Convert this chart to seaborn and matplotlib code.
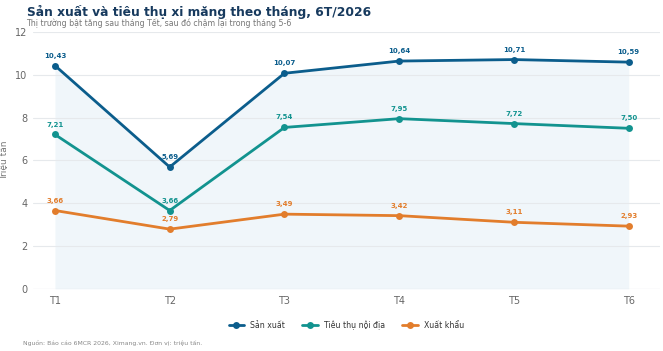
import numpy as np
import pandas as pd
import matplotlib
matplotlib.use("Agg")
import matplotlib.pyplot as plt
import seaborn as sns

months = ["T1", "T2", "T3", "T4", "T5", "T6"]
san_xuat = [10.43, 5.69, 10.07, 10.64, 10.71, 10.59]
tieu_thu = [7.21, 3.66, 7.54, 7.95, 7.72, 7.50]
xuat_khau = [3.66, 2.79, 3.49, 3.42, 3.11, 2.93]

series = ["Sản xuất", "Tiêu thụ nội địa", "Xuất khẩu"]
colors = ["#0b5d8c", "#12938f", "#e27d2c"]

df = pd.DataFrame({"x": np.arange(len(months)), "Sản xuất": san_xuat,
                   "Tiêu thụ nội địa": tieu_thu, "Xuất khẩu": xuat_khau})
long = df.melt(id_vars="x", var_name="series", value_name="value")

sns.set_style("white")
plt.rcParams['font.family'] = ['DejaVu Sans']

fig = plt.figure(figsize=(6.63, 3.51), dpi=100)
ax = fig.add_axes([0.05, 0.177, 0.945, 0.732])

# nền nhạt dưới đường sản xuất
ax.fill_between(df["x"], 0, df["Sản xuất"], color="#f0f6fa", lw=0, zorder=0.5)
sns.lineplot(data=long, x="x", y="value", hue="series", hue_order=series,
             palette=colors, marker="o", markersize=5, markeredgewidth=0,
             linewidth=2, ax=ax, zorder=3)

for name, col in zip(series, colors):
    for xi, v in zip(df["x"], df[name]):
        ax.annotate(f"{v:.2f}".replace(".", ","), (xi, v), xytext=(0, 5),
                    textcoords="offset points", ha="center", va="bottom",
                    fontsize=5, fontweight="bold", color=col)

ax.set_xlim(-0.19, 5.27)
ax.set_ylim(0, 12)
ax.set_yticks([0, 2, 4, 6, 8, 10, 12])
ax.set_xticks(df["x"])
ax.set_xticklabels(months)
ax.tick_params(axis="y", labelsize=7, colors="#666666", length=0, pad=4)
ax.tick_params(axis="x", labelsize=7, colors="#666666", length=2, width=0.6,
               color="#cccccc", pad=3)
ax.set_xlabel("")
ax.set_ylabel("Triệu tấn", fontsize=6.5, color="#777777", labelpad=4)
ax.set_axisbelow(False)
ax.grid(axis="y", color="#e6e9ec", linewidth=0.8, zorder=1)
for s in ax.spines.values():
    s.set_visible(False)
ax.axhline(0, color="#dddddd", lw=0.8, zorder=1)

leg = ax.legend(loc="upper center", bbox_to_anchor=(0.5, -0.095), ncol=3,
                frameon=False, fontsize=5.6, handlelength=2.0, columnspacing=2.2)
for t in leg.get_texts():
    t.set_color("#333333")

fig.text(0.04, 0.966, "Sản xuất và tiêu thụ xi măng theo tháng, 6T/2026",
         fontsize=8.8, fontweight="bold", color="#173a5e", va="center")
fig.text(0.04, 0.935, "Thị trường bật tăng sau tháng Tết, sau đó chậm lại trong tháng 5-6",
         fontsize=5.7, color="#777777", va="center")
fig.text(0.035, 0.023, "Nguồn: Báo cáo 6MCR 2026, Ximang.vn. Đơn vị: triệu tấn.",
         fontsize=4.4, color="#888888", va="center")

fig.savefig("out.png", dpi=100, facecolor="white")
